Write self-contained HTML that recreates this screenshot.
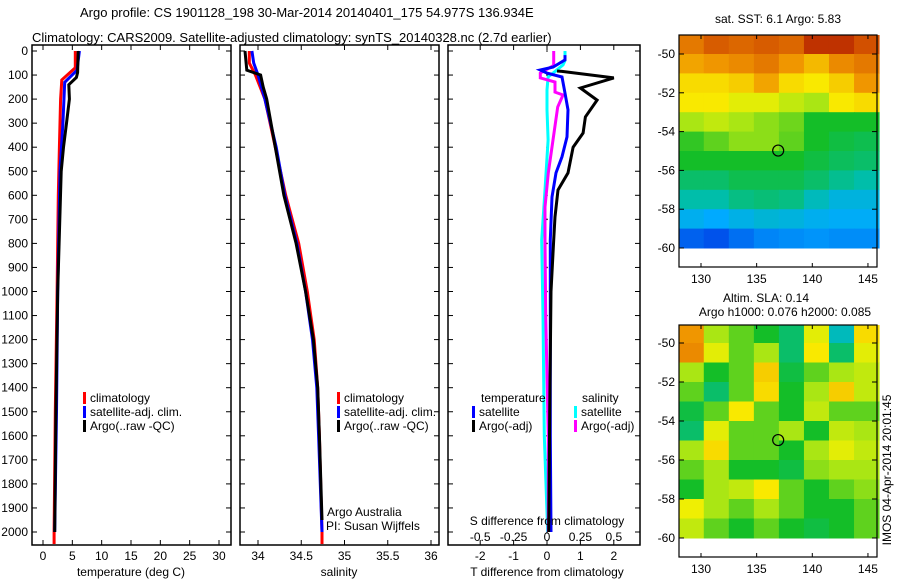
<!DOCTYPE html>
<html><head><meta charset="utf-8"><style>
body{margin:0;background:#fff;}
svg{display:block;font-family:"Liberation Sans",sans-serif;}
text{font-size:12px;fill:#000;}
</style></head><body>
<svg id="c" width="900" height="580" viewBox="0 0 900 580">
<text x="80" y="17" style="font-size:13px">Argo profile: CS 1901128_198 30-Mar-2014 20140401_175 54.977S 136.934E</text>
<text x="32" y="42" style="font-size:13px">Climatology: CARS2009. Satellite-adjusted climatology: synTS_20140328.nc (2.7d earlier)</text>
<text x="778" y="23" text-anchor="middle">sat. SST: 6.1 Argo: 5.83</text>
<text x="766" y="302" text-anchor="middle">Altim. SLA: 0.14</text>
<text x="785" y="316" text-anchor="middle">Argo h1000: 0.076 h2000: 0.085</text>
<text transform="translate(891,470) rotate(-90)" text-anchor="middle">IMOS 04-Apr-2014 20:01:45</text>
<g id="g"></g>
</svg>
<script>
// ---- profile data ----
const tempDepthClim=[0,70,120,200,400,600,1000,1500,2000,2050];
const tempClim=[5.5,5.5,3.2,3.0,2.8,2.6,2.4,2.1,1.9,1.9];
const tempDepthSat=[0,80,130,300,500,1000,1500,2000];
const tempSat=[6.2,5.8,3.7,3.4,2.9,2.5,2.3,2.0];
const tempDepthArgo=[0,90,110,140,200,300,400,500,1000,1500,2000];
const tempArgo=[6.0,5.9,5.7,4.4,4.5,4.0,3.5,3.1,2.5,2.2,2.0];
const salDepth=[0,50,100,200,400,600,800,1000,1200,1400,1600,2000,2050];
const salClim=[33.9,33.9,33.97,34.08,34.2,34.32,34.47,34.57,34.65,34.69,34.71,34.74,34.74];
const salSat=[33.93,33.95,34.0,34.08,34.21,34.31,34.45,34.55,34.63,34.68,34.7,34.74];
const salArgoDepth=[0,80,100,150,200,400,600,800,1000,1200,1400,1600,1950];
const salArgo=[33.85,33.87,34.03,34.06,34.1,34.2,34.3,34.44,34.55,34.64,34.69,34.71,34.74];
const dTArgoDepth=[83,85,112,154,204,274,341,400,507,578,690,786,1000,1500,2000];
const dTArgo=[0.3,0.45,2.0,1.0,1.5,1.15,1.08,0.78,0.63,0.33,0.24,0.2,0.12,0.08,0.05];
const dTSatDepth=[17,37,67,79,92,108,175,245,357,440,507,607,786,1200,1600,2000];
const dTSat=[0.54,0.54,0.18,-0.2,0,0.45,0.54,0.63,0.6,0.45,0.27,0.15,0.1,0.1,0.1,0.12];
const dSArgoDepth=[0,60,92,112,129,171,183,233,370,507,649,786,1100,1600,2000];
const dSArgo=[0.05,0.05,-0.05,-0.05,0.06,0.06,0.12,0.08,0.045,0.01,-0.015,-0.015,-0.01,0.01,0.01];
const dSSatDepth=[0,40,58,92,108,162,245,370,578,786,1100,1600,2000];
const dSSat=[0.135,0.135,0.12,0.045,0.008,0,0,0.008,-0.015,-0.04,-0.03,-0.02,0.005];
const depthTicks=[0,100,200,300,400,500,600,700,800,900,1000,1100,1200,1300,1400,1500,1600,1700,1800,1900,2000];
const tempTicks=[0,5,10,15,20,25,30];
const salTicks=[34,34.5,35,35.5,36];
const salTickLabels=["34","34.5","35","35.5","36"];
const dTTicks=[-2,-1,0,1,2];
const dSTicks=[-0.5,-0.25,0,0.25,0.5];
const dSTickLabels=["-0.5","-0.25","0","0.25","0.5"];
// ---- map data (colour index 0..1, rows -49.5..-59.5, cols 128..146) ----
const sstRows=[
[0.85,0.9,0.88,0.9,0.88,0.95,0.95,0.92],
[0.78,0.8,0.82,0.85,0.8,0.75,0.82,0.85],
[0.7,0.7,0.72,0.78,0.7,0.68,0.72,0.8],
[0.68,0.68,0.65,0.65,0.62,0.6,0.68,0.7],
[0.6,0.62,0.6,0.58,0.56,0.5,0.5,0.5],
[0.52,0.55,0.58,0.58,0.55,0.5,0.48,0.47],
[0.5,0.5,0.5,0.5,0.5,0.48,0.46,0.45],
[0.45,0.45,0.47,0.47,0.47,0.45,0.42,0.4],
[0.4,0.4,0.43,0.44,0.43,0.38,0.34,0.34],
[0.32,0.3,0.33,0.35,0.34,0.32,0.31,0.31],
[0.2,0.18,0.22,0.25,0.26,0.27,0.26,0.26]];
const slaRows=[
[0.8,0.6,0.55,0.5,0.45,0.65,0.38,0.7],
[0.82,0.65,0.55,0.6,0.45,0.68,0.45,0.65],
[0.6,0.5,0.55,0.72,0.48,0.55,0.6,0.62],
[0.55,0.45,0.55,0.7,0.5,0.6,0.72,0.62],
[0.48,0.55,0.68,0.55,0.5,0.62,0.55,0.55],
[0.45,0.65,0.55,0.55,0.6,0.5,0.62,0.6],
[0.6,0.7,0.55,0.55,0.5,0.6,0.65,0.62],
[0.55,0.6,0.5,0.5,0.48,0.58,0.6,0.6],
[0.5,0.6,0.62,0.68,0.55,0.5,0.55,0.58],
[0.66,0.6,0.55,0.6,0.55,0.5,0.5,0.55],
[0.62,0.55,0.5,0.55,0.5,0.48,0.5,0.55]];
const latTicks=[-50,-52,-54,-56,-58,-60];
const lonTicks=[130,135,140,145];
const argoLon=136.934, argoLat=-54.977;

const NS="http://www.w3.org/2000/svg";
const G=document.getElementById('g');
function mk(t,a,p){const e=document.createElementNS(NS,t);for(const k in a)e.setAttribute(k,a[k]);(p||G).appendChild(e);return e;}
const yD=d=>51+d*(532-51)/2000;
const P1={x0:32,x1:231,sx:v=>43+v*(219-43)/30};
const P2={x0:240,x1:439,sx:v=>258+(v-34)*(431-258)/2};
const P3={x0:448,x1:640,sx:v=>547+v*33.4};
const sxS=v=>547+v*4*33.4;
const TOP=45,BOT=545;
function frame(P,name){
  mk('rect',{x:P.x0,y:TOP,width:P.x1-P.x0,height:BOT-TOP,fill:'none',stroke:'#000','stroke-width':1.5,});
  depthTicks.forEach(d=>{const y=yD(d);
    mk('line',{x1:P.x0,x2:P.x0+5,y1:y,y2:y,stroke:'#000'});
    mk('line',{x1:P.x1-5,x2:P.x1,y1:y,y2:y,stroke:'#000'});});
}
function line(xs,ds,f,col,name){
  const pts=xs.map((v,i)=>f(v).toFixed(1)+','+yD(ds[i]).toFixed(1)).join(' ');
  const e=mk('polyline',{points:pts,fill:'none',stroke:col,'stroke-width':3,'stroke-linejoin':'miter'});
  
  
}
function xticks(P,ticks,labels,f,ly){
  ticks.forEach((t,i)=>{const x=f(t);
    mk('line',{x1:x,x2:x,y1:BOT,y2:BOT-5,stroke:'#000'});
    mk('line',{x1:x,x2:x,y1:TOP,y2:TOP+5,stroke:'#000'});
    if(ly){const tx=mk('text',{x:x,y:ly,'text-anchor':'middle'});tx.textContent=labels[i];
      
      }});
}
function txt(x,y,s,name,anchor){const t=mk('text',{x:x,y:y,'text-anchor':anchor||'start'});t.textContent=s;
  
  return t;}
function legend(x,y,col,s,name){mk('rect',{x:x,y:y-10,width:3,height:12,fill:col});txt(x+7,y,s,name);}

// panel 1
frame(P1,'temperature-panel');
depthTicks.forEach(d=>{txt(28,yD(d)+4,String(d),'depth-tick-label','end');});
xticks(P1,tempTicks,tempTicks.map(String),P1.sx,560);
line(tempClim,tempDepthClim,P1.sx,'#f00','temp-climatology-line');
line(tempSat,tempDepthSat,P1.sx,'#00f','temp-satellite-line');
line(tempArgo,tempDepthArgo,P1.sx,'#000','temp-argo-line');
txt(131,576,'temperature (deg C)','temperature-axis-title','middle');
legend(83,402,'#f00','climatology','legend-climatology');
legend(83,416,'#00f','satellite-adj. clim.','legend-satellite');
legend(83,430,'#000','Argo(..raw -QC)','legend-argo');
// panel 2
frame(P2,'salinity-panel');
xticks(P2,salTicks,salTickLabels,P2.sx,560);
line(salClim,salDepth,P2.sx,'#f00','sal-climatology-line');
line(salSat,salDepth.slice(0,salSat.length),P2.sx,'#00f','sal-satellite-line');
line(salArgo,salArgoDepth,P2.sx,'#000','sal-argo-line');
txt(339,576,'salinity','salinity-axis-title','middle');
legend(337,402,'#f00','climatology','legend-climatology');
legend(337,416,'#00f','satellite-adj. clim.','legend-satellite');
legend(337,430,'#000','Argo(..raw -QC)','legend-argo');
txt(327,516,'Argo Australia','argo-australia-label');
txt(326,530,'PI: Susan Wijffels','pi-label');
// panel 3
frame(P3,'difference-panel');
xticks(P3,dTTicks,dTTicks.map(String),P3.sx,560);
dSTicks.forEach((t,i)=>{txt(sxS(t),541,dSTickLabels[i],'s-diff-tick-label','middle');});
depthTicks.forEach(d=>{mk('circle',{cx:547,cy:yD(d),r:0.8,fill:'#000'});});
line(dSSat,dSSatDepth,sxS,'#0ff','s-satellite-line');
line(dSArgo,dSArgoDepth,sxS,'#f0f','s-argo-line');
line(dTSat,dTSatDepth,P3.sx,'#00f','t-satellite-line');
line(dTArgo,dTArgoDepth,P3.sx,'#000','t-argo-line');
txt(547,525,'S difference from climatology','s-diff-axis-title','middle');
txt(547,576,'T difference from climatology','t-diff-axis-title','middle');
txt(481,402,'temperature','legend-temperature-header');
txt(582,402,'salinity','legend-salinity-header');
legend(472,416,'#00f','satellite','legend-t-satellite');
legend(472,430,'#000','Argo(-adj)','legend-t-argo');
legend(574,416,'#0ff','satellite','legend-s-satellite');
legend(574,430,'#f0f','Argo(-adj)','legend-s-argo');

// colormap
const stops=[[0,[0,0,140]],[0.15,[0,60,230]],[0.3,[0,170,255]],[0.4,[0,190,170]],[0.5,[20,190,40]],[0.6,[170,230,20]],[0.67,[250,240,0]],[0.8,[240,150,0]],[0.92,[210,80,0]],[1,[160,0,0]]];
function cmap(v){for(let i=1;i<stops.length;i++){if(v<=stops[i][0]){const a=stops[i-1],b=stops[i],t=(v-a[0])/(b[0]-a[0]);
  return 'rgb('+a[1].map((c,k)=>Math.round(c+(b[1][k]-c)*t)).join(',')+')';}}return 'rgb(160,0,0)';}
function map(M,rows,name){
  const lonX=l=>701+(l-130)*11.13, latY=l=>M.y50+(-50-l)*M.sy;
  const g=mk('g',{});
  
  
  const nc=rows[0].length;
  rows.forEach((r,i)=>r.forEach((v,j)=>{
    const la0=-49+(-i)*1.0, lo0=128+j*18/nc;
    const x=lonX(lo0),y=Math.max(M.top,latY(la0));
    const y2=latY(la0-1)+0.5;
    const c=mk('rect',{x:x,y:y,width:11.13*18/nc+0.5,height:y2-y,fill:cmap(v)},g);
    
    
  }));
  mk('rect',{x:679,y:latY(-60.1),width:198,height:M.bot-latY(-60.1),fill:'#fff'});
  mk('rect',{x:679,y:M.top,width:198,height:M.bot-M.top,fill:'none',stroke:'#000','stroke-width':1.2});
  latTicks.forEach(l=>{const y=latY(l);mk('line',{x1:877,x2:872,y1:y,y2:y,stroke:'#000'});mk('line',{x1:679,x2:684,y1:y,y2:y,stroke:'#000'});
    txt(675,y+4,String(l),'lat-tick-label','end');});
  lonTicks.forEach(l=>{const x=lonX(l);mk('line',{x1:x,x2:x,y1:M.top,y2:M.top+4,stroke:'#000'});mk('line',{x1:x,x2:x,y1:M.bot,y2:M.bot-4,stroke:'#000'});
    txt(x,M.bot+16,String(l),'lon-tick-label','middle');});
  const c=mk('circle',{cx:lonX(argoLon),cy:latY(argoLat),r:5.5,fill:'none',stroke:'#000','stroke-width':1.2});
  
  
}
map({top:35,bot:267,y50:54,sy:19.4},sstRows,'sst-map');
map({top:325,bot:557,y50:343,sy:19.5},slaRows,'sla-map');
</script>
</body></html>
